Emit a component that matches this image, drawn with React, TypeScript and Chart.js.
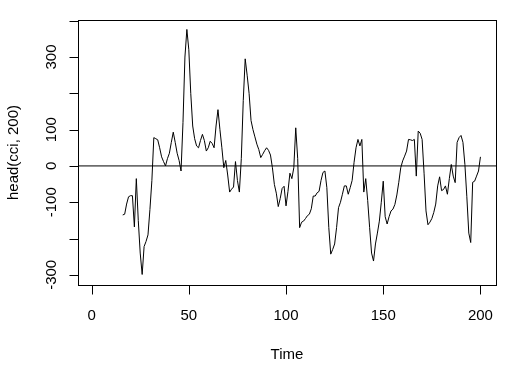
import { useEffect, useRef } from "react";
import { Chart, registerables } from "chart.js";

Chart.register(...registerables);

// ---- data ----
const startTime = 16;
const cciValues = [
  -135, -133, -105, -85, -82, -82, -168, -35, -150, -240,
  -299, -222, -208, -190, -120, -40, 78, 75, 72, 50,
  25, 12, 0, 20, 35, 65, 93, 65, 35, 15,
  -14, 120, 300, 376, 320, 200, 110, 75, 55, 50,
  70, 87, 70, 41, 50, 68, 62, 50, 110, 155,
  100, 50, -5, 15, -25, -72, -64, -58, 12, -40,
  -72, 20, 180, 295, 250, 200, 125, 100, 80, 60,
  45, 23, 32, 42, 50, 43, 30, -5, -51, -75,
  -112, -90, -62, -56, -110, -70, -20, -35, -5, 105,
  20, -170, -155, -152, -145, -137, -133, -118, -83, -83,
  -74, -70, -40, -18, -14, -60, -170, -243, -230, -215,
  -170, -115, -100, -78, -55, -55, -78, -60, -40, 10,
  50, 73, 55, 73, -72, -35, -95, -170, -240, -262,
  -215, -185, -152, -100, -42, -140, -160, -140, -124, -119,
  -106, -80, -45, -5, 14, 27, 41, 73, 72, 70,
  73, -28, 96, 90, 73, -20, -124, -162, -155, -145,
  -128, -105, -55, -30, -68, -65, -55, -78, -35, 4,
  -28, -46, 65, 78, 84, 65, 4, -85, -185, -211,
  -45, -42, -28, -14, 25,
];
const xTicks = [0, 50, 100, 150, 200];
const xTickLabels = ["0", "50", "100", "150", "200"];
const yTicks = [-300, -200, -100, 0, 100, 200, 300, 400];
const yTickLabels = ["-300", "", "-100", "0", "100", "", "300", ""];
const xLimits = [-7, 208];
const yLimits = [-328, 402];
const xTitle = "Time";
const yTitle = "head(cci, 200)";
const refLevel = 0;

const FONT = "15px 'Liberation Sans', Arial, Helvetica, sans-serif";

const rAxesPlugin = {
  id: "rAxes",
  afterDraw(chart: any) {
    const { ctx, chartArea: a, scales } = chart;
    const xs = scales.x;
    const ys = scales.y;
    const L = Math.round(a.left) + 0.5;
    const T = Math.round(a.top) + 0.5;
    const R = Math.round(a.right) + 0.5;
    const B = Math.round(a.bottom) + 0.5;
    ctx.save();
    ctx.strokeStyle = "#000";
    ctx.fillStyle = "#000";
    ctx.lineWidth = 1;
    // box
    ctx.strokeRect(L, T, R - L, B - T);
    // x axis
    ctx.beginPath();
    const xp = xTicks.map((v) => Math.round(xs.getPixelForValue(v)) + 0.5);
    ctx.moveTo(xp[0], B);
    ctx.lineTo(xp[xp.length - 1], B);
    xp.forEach((p) => {
      ctx.moveTo(p, B);
      ctx.lineTo(p, B + 9);
    });
    // y axis
    const yp = yTicks.map((v) => Math.round(ys.getPixelForValue(v)) + 0.5);
    ctx.moveTo(L, yp[0]);
    ctx.lineTo(L, yp[yp.length - 1]);
    yp.forEach((p) => {
      ctx.moveTo(L, p);
      ctx.lineTo(L - 9, p);
    });
    ctx.stroke();

    ctx.font = FONT;
    ctx.textAlign = "center";
    ctx.textBaseline = "alphabetic";
    xTicks.forEach((v, i) => {
      ctx.fillText(xTickLabels[i], xs.getPixelForValue(v), a.bottom + 35);
    });
    ctx.fillText(xTitle, (a.left + a.right) / 2, a.bottom + 74);

    yTicks.forEach((v, i) => {
      if (!yTickLabels[i]) return;
      ctx.save();
      ctx.translate(a.left - 22, ys.getPixelForValue(v));
      ctx.rotate(-Math.PI / 2);
      ctx.fillText(yTickLabels[i], 0, 0);
      ctx.restore();
    });
    ctx.save();
    ctx.translate(a.left - 60, (a.top + a.bottom) / 2);
    ctx.rotate(-Math.PI / 2);
    ctx.fillText(yTitle, 0, 0);
    ctx.restore();
    ctx.restore();
  },
};

export default function App() {
  const canvasRef = useRef<HTMLCanvasElement | null>(null);

  useEffect(() => {
    document.body.style.margin = "0";
    document.body.style.background = "#fff";
    const canvas = canvasRef.current;
    if (!canvas) return;
    const points = cciValues.map((v, i) => ({ x: startTime + i, y: v }));
    const chart = new Chart(canvas, {
      type: "line",
      data: {
        datasets: [
          {
            data: points,
            borderColor: "#000",
            borderWidth: 1,
            pointRadius: 0,
            fill: false,
            tension: 0,
          },
          {
            data: [
              { x: xLimits[0], y: refLevel },
              { x: xLimits[1], y: refLevel },
            ],
            borderColor: "#000",
            borderWidth: 1,
            pointRadius: 0,
            fill: false,
          },
        ],
      },
      options: {
        responsive: false,
        maintainAspectRatio: false,
        animation: false,
        devicePixelRatio: 1,
        layout: { padding: { left: 78, top: 20, right: 21, bottom: 88 } },
        scales: {
          x: { type: "linear", min: xLimits[0], max: xLimits[1], display: false },
          y: { type: "linear", min: yLimits[0], max: yLimits[1], display: false },
        },
        plugins: {
          legend: { display: false },
          tooltip: { enabled: false },
        },
      },
      plugins: [rAxesPlugin],
    });
    return () => chart.destroy();
  }, []);

  return (
    <canvas
      ref={canvasRef}
      width={517}
      height={373}
      style={{ display: "block", background: "#fff" }}
    />
  );
}
